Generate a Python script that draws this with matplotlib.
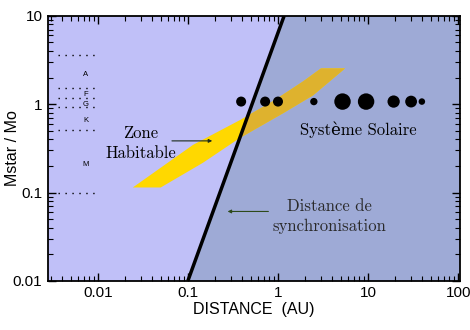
import numpy as np
import matplotlib
matplotlib.use("Agg")
import matplotlib.pyplot as plt
from matplotlib.patches import Polygon

# planets of the solar system (distance in AU, star mass, marker size)
planet_names = ["Mercure", "Venus", "Terre", "Mars", "Jupiter", "Saturne", "Uranus", "Neptune", "Pluton"]
planet_dist = [0.39, 0.72, 1.0, 2.5, 5.2, 9.5, 19.2, 30.0, 39.5]
planet_mass = [1.07] * 9
planet_size = [52, 52, 52, 28, 140, 140, 78, 72, 22]

# spectral type boundaries
class_bounds = [3.6, 1.52, 1.17, 0.92, 0.51, 0.1]
class_letters = ["A", "F", "G", "K", "M"]
class_label_y = [2.15, 1.3, 0.98, 0.65, 0.21]

# habitable zone outline
hz_x = [0.0245, 0.114, 0.378, 0.88, 1.9, 3.0, 5.55, 2.45, 1.14, 0.378, 0.147, 0.05]
hz_y = [0.114, 0.346, 0.66, 1.08, 1.81, 2.54, 2.54, 1.26, 0.79, 0.415, 0.217, 0.114]

# synchronisation distance line
sync_x = [0.1, 1.17]
sync_y = [0.01, 10]

xmin, xmax = 0.0028, 105
ymin, ymax = 0.01, 10

serif = ["cmr10", "DejaVu Serif"]

fig = plt.figure(figsize=(4.7, 3.3), dpi=100)
ax = fig.add_axes([0.102, 0.149, 0.877, 0.803])
ax.set_xscale("log")
ax.set_yscale("log")
ax.set_xlim(xmin, xmax)
ax.set_ylim(ymin, ymax)
ax.set_facecolor("#c0c0f8")

# region beyond the synchronisation distance
right = Polygon([(sync_x[0], ymin), (sync_x[1], ymax), (xmax, ymax), (xmax, ymin)],
                closed=True, facecolor="#9eaad6", edgecolor="none", zorder=1)
ax.add_patch(right)

hz = list(zip(hz_x, hz_y))
ax.add_patch(Polygon(hz, closed=True, facecolor="#ffd800", edgecolor="none", zorder=2))
hz2 = Polygon(hz, closed=True, facecolor="#deb22e", edgecolor="none", zorder=3)
ax.add_patch(hz2)
hz2.set_clip_path(right)

ax.plot(sync_x, sync_y, color="black", lw=2.5, zorder=5, solid_capstyle="butt")

ax.scatter(planet_dist, planet_mass, s=planet_size, color="black", zorder=6, linewidths=0)

for m in class_bounds:
    ax.plot([0.0036, 0.0101], [m, m], color="black", lw=1.0, ls=(0, (1, 4)), zorder=4)
for lab, yy in zip(class_letters, class_label_y):
    ax.text(0.0073, yy, lab, fontsize=5.5, ha="center", va="center", family="Liberation Sans", zorder=4)

ax.text(0.03, 0.36, "Zone\nHabitable", family=serif, fontsize=12, ha="center", va="center",
        linespacing=1.4, zorder=7)
ax.annotate("", xy=(0.2, 0.384), xytext=(0.062, 0.384),
            arrowprops=dict(arrowstyle="-|>", color="#1a2a1a", lw=0.8, mutation_scale=5), zorder=7)

ax.text(7.7, 0.52, "Système Solaire", family=serif, fontsize=12, ha="center", va="center", zorder=7)

ax.text(3.7, 0.054, "Distance de\nsynchronisation", family=serif, fontsize=12, ha="center",
        va="center", linespacing=1.4, color="#2a2a2a", zorder=7)
ax.annotate("", xy=(0.257, 0.061), xytext=(0.84, 0.061),
            arrowprops=dict(arrowstyle="-|>", color="#2d4a1a", lw=0.8, mutation_scale=5), zorder=7)

ax.set_xticks([0.01, 0.1, 1, 10, 100])
ax.set_xticklabels(["0.01", "0.1", "1", "10", "100"])
ax.set_yticks([0.01, 0.1, 1, 10])
ax.set_yticklabels(["0.01", "0.1", "1", "10"])
ax.tick_params(which="both", direction="in", top=True, right=True, labelsize=11, pad=4)
ax.tick_params(which="major", length=6, width=1)
ax.tick_params(which="minor", length=3.5, width=0.8)
for lab in ax.get_xticklabels() + ax.get_yticklabels():
    lab.set_family("Liberation Sans")
for sp in ax.spines.values():
    sp.set_linewidth(1.3)

ax.set_xlabel("DISTANCE  (AU)", family="Liberation Sans", fontsize=11.5, labelpad=1)
ax.set_ylabel("Mstar / Mo", family="Liberation Sans", fontsize=11.5)
ax.yaxis.set_label_coords(-0.068, 0.5)

fig.savefig("out.png", dpi=100)
